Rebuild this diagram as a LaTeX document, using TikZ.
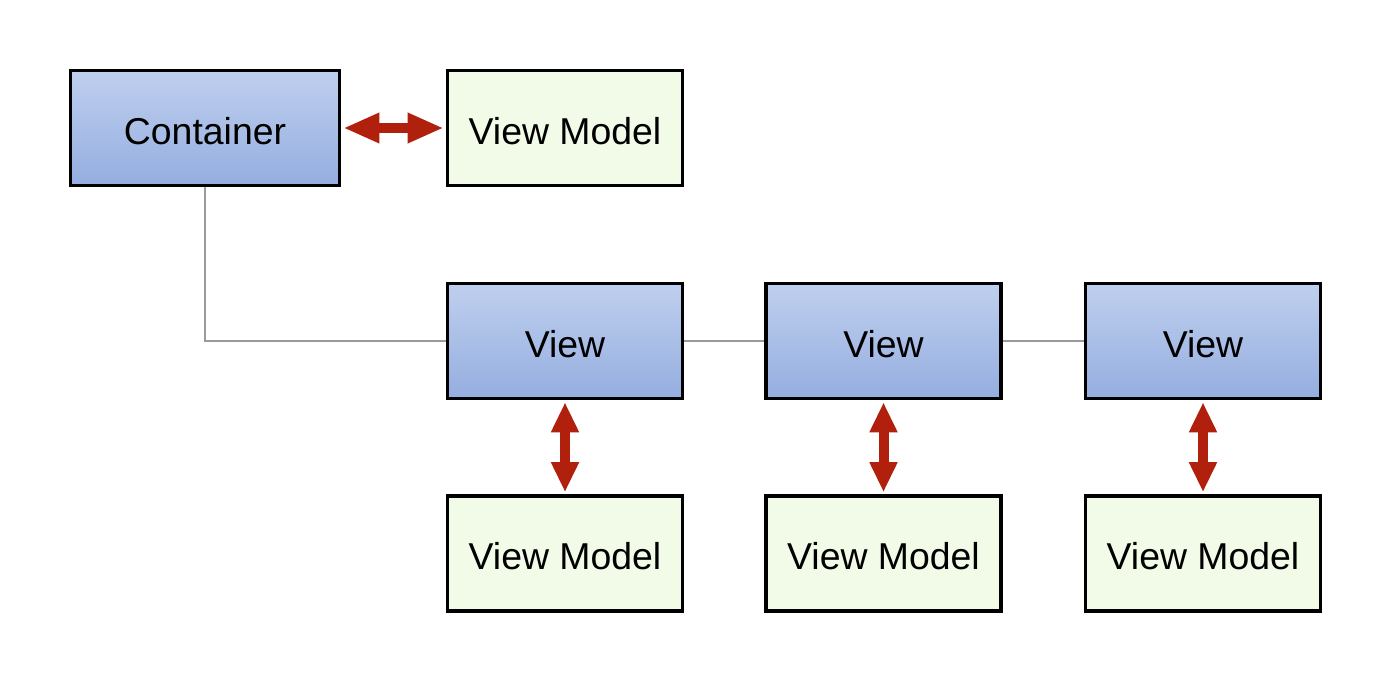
\documentclass[tikz,border=0pt]{standalone}
\usepackage{fontspec}
\setmainfont{Liberation Sans}
\usetikzlibrary{arrows.meta}
\definecolor{bluetop}{HTML}{BFCFEE}
\definecolor{bluebot}{HTML}{95AEE0}
\definecolor{vmfill}{HTML}{F1FBE7}
\definecolor{arrred}{HTML}{B0200C}
\definecolor{linkgray}{HTML}{9A9A9A}
\begin{document}
\begin{tikzpicture}[x=0.5pt,y=-0.5pt,
  box/.style={draw=black, line width=1.8pt, minimum height=57.5pt, inner sep=0pt,
    text height=16.4pt, text depth=0pt, font=\fontsize{18.7}{22}\selectfont},
  viewbox/.style={box, top color=bluetop, bottom color=bluebot, minimum width=117.5pt},
  contbox/.style={box, top color=bluetop, bottom color=bluebot, minimum width=134.5pt},
  vmbox/.style={box, fill=vmfill, minimum width=117.5pt},
  link/.style={draw=linkgray, line width=1pt},
  bind/.style={draw=arrred, line width=5pt, {Triangle[length=18pt,width=14pt]}-{Triangle[length=18pt,width=14pt]}, shorten <=1pt, shorten >=1pt},
  vbind/.style={draw=arrred, line width=5pt, {Triangle[length=15pt,width=13pt]}-{Triangle[length=15pt,width=13pt]}, shorten <=1pt, shorten >=1pt}
]
\useasboundingbox (0,0) rectangle (1388,684);
\node[contbox] (cont) at (205,128) {Container};
\node[vmbox] (vm0) at (565,128) {View Model};
\node[viewbox] (v1) at (565,341) {View};
\node[viewbox] (v2) at (883.5,341) {View};
\node[viewbox] (v3) at (1203,341) {View};
\node[vmbox] (vm1) at (565,553.5) {View Model};
\node[vmbox] (vm2) at (883.5,553.5) {View Model};
\node[vmbox] (vm3) at (1203,553.5) {View Model};
\draw[link] (cont.south) |- (v1.west);
\draw[link] (v1.east) -- (v2.west);
\draw[link] (v2.east) -- (v3.west);
\draw[bind] (cont.east) -- (vm0.west);
\draw[vbind] (v1.south) -- (vm1.north);
\draw[vbind] (v2.south) -- (vm2.north);
\draw[vbind] (v3.south) -- (vm3.north);
\end{tikzpicture}
\end{document}
